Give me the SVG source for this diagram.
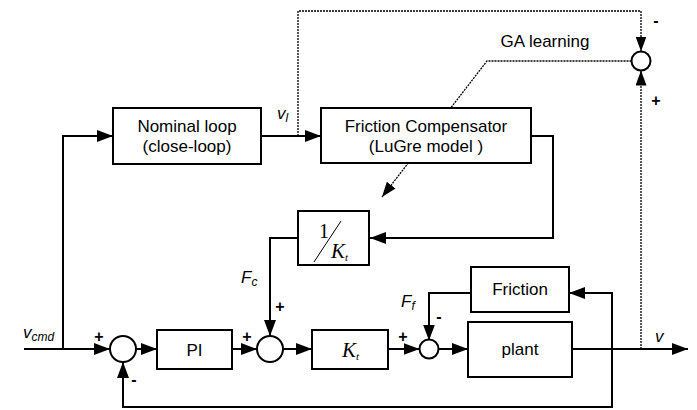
<svg xmlns="http://www.w3.org/2000/svg" width="697" height="410" viewBox="0 0 697 410">
<style>
.box{fill:#fff;stroke:#000;stroke-width:2}
.sum{fill:#fff;stroke:#000;stroke-width:2}
.ln{fill:none;stroke:#000;stroke-width:2}
.dot{fill:none;stroke:#000;stroke-width:1.3;stroke-dasharray:2 1}
.t{font-family:"Liberation Sans",Arial,sans-serif;font-size:17px;fill:#000;text-anchor:middle}
.lab{font-family:"Liberation Sans",Arial,sans-serif;font-style:italic;font-size:17px;fill:#000}
.sub{font-size:12px}
.sg{font-family:"Liberation Sans",Arial,sans-serif;font-weight:bold;font-size:16px;fill:#000;text-anchor:middle}
.tm{font-family:"Liberation Serif","Times New Roman",serif;fill:#000}
</style>
<defs>
<marker id="ah" markerUnits="userSpaceOnUse" markerWidth="16" markerHeight="12" refX="16" refY="6" orient="auto">
<path d="M0,0 L16,6 L0,12 z" fill="#000"/>
</marker>
<marker id="ahs" markerUnits="userSpaceOnUse" markerWidth="15" markerHeight="11" refX="15" refY="5.5" orient="auto">
<path d="M0,0 L15,5.5 L0,11 z" fill="#000"/>
</marker>
</defs>
<g id="connectors">
<path class="ln" d="M24,349 H110" marker-end="url(#ah)"/>
<path class="ln" d="M63,349 V136 H113" marker-end="url(#ah)"/>
<path class="ln" d="M261,136 H321" marker-end="url(#ah)"/>
<path class="dot" d="M298,136 V11 H641 V51.5" marker-end="url(#ahs)"/>
<path class="dot" d="M641,349 V70.5" marker-end="url(#ahs)"/>
<path class="dot" d="M631.5,61 H487 L382,197" marker-end="url(#ahs)"/>
<path class="ln" d="M531,136 H553 V238 H370" marker-end="url(#ah)"/>
<path class="ln" d="M298,238 H270 V336" marker-end="url(#ah)"/>
<path class="ln" d="M136,349 H157" marker-end="url(#ah)"/>
<path class="ln" d="M232,349 H257" marker-end="url(#ah)"/>
<path class="ln" d="M283,349 H312" marker-end="url(#ah)"/>
<path class="ln" d="M388,349 H419.5" marker-end="url(#ah)"/>
<path class="ln" d="M438.5,349 H468" marker-end="url(#ah)"/>
<path class="ln" d="M572,349 H688" marker-end="url(#ah)"/>
<path class="ln" d="M612,349 V293 H569" marker-end="url(#ah)"/>
<path class="ln" d="M612,349 V407 H123 V362" marker-end="url(#ah)"/>
<path class="ln" d="M471,293 H429 V340.5" marker-end="url(#ah)"/>
</g>
<g id="nominal-loop">
<rect class="box" x="113" y="108" width="148" height="56"/>
<text class="t" x="187" y="132">Nominal loop</text>
<text class="t" x="187" y="152">(close-loop)</text>
</g>
<g id="friction-compensator">
<rect class="box" x="321" y="108" width="210" height="55"/>
<text class="t" x="426" y="132">Friction Compensator</text>
<text class="t" x="426" y="152">(LuGre model )</text>
</g>
<g id="inv-kt">
<rect class="box" x="298" y="211" width="71" height="54"/>
<text class="tm" x="319" y="238" font-size="20">1</text>
<line x1="314" y1="262" x2="341" y2="221" stroke="#000" stroke-width="1"/>
<text class="tm" x="331" y="258" font-size="21" font-style="italic">K<tspan font-size="11" dy="3">t</tspan></text>
</g>
<g id="sum-ga">
<circle class="sum" cx="641" cy="61" r="9.5"/>
</g>
<g id="sum1">
<circle class="sum" cx="123" cy="349" r="13"/>
</g>
<g id="pi">
<rect class="box" x="157" y="330" width="75" height="39"/>
<text class="t" x="194.5" y="356">PI</text>
</g>
<g id="sum2">
<circle class="sum" cx="270" cy="349" r="13"/>
</g>
<g id="kt">
<rect class="box" x="312" y="330" width="76" height="39"/>
<text class="tm" x="342" y="357" font-size="21" font-style="italic">K<tspan font-size="11" dy="3">t</tspan></text>
</g>
<g id="sum3">
<circle class="sum" cx="429" cy="349" r="9.5"/>
</g>
<g id="friction">
<rect class="box" x="471" y="267" width="98" height="45"/>
<text class="t" x="520" y="295">Friction</text>
</g>
<g id="plant">
<rect class="box" x="468" y="322" width="104" height="55"/>
<text class="t" x="520" y="355">plant</text>
</g>
<g id="labels">
<text class="t" x="545" y="47">GA learning</text>
<text class="lab" x="277" y="119">v<tspan class="sub" dy="3">l</tspan></text>
<text class="lab" x="23" y="338">v<tspan class="sub" dy="3">cmd</tspan></text>
<text class="lab" x="241" y="283">F<tspan class="sub" dy="3">c</tspan></text>
<text class="lab" x="401" y="307">F<tspan class="sub" dy="3">f</tspan></text>
<text class="lab" x="655" y="342">v</text>
<text class="sg" x="656" y="26">-</text>
<text class="sg" x="656" y="106">+</text>
<text class="sg" x="99" y="342">+</text>
<text class="sg" x="134" y="385">-</text>
<text class="sg" x="247" y="342">+</text>
<text class="sg" x="280" y="312">+</text>
<text class="sg" x="403" y="342">+</text>
<text class="sg" x="439" y="322">-</text>
</g>
</svg>
